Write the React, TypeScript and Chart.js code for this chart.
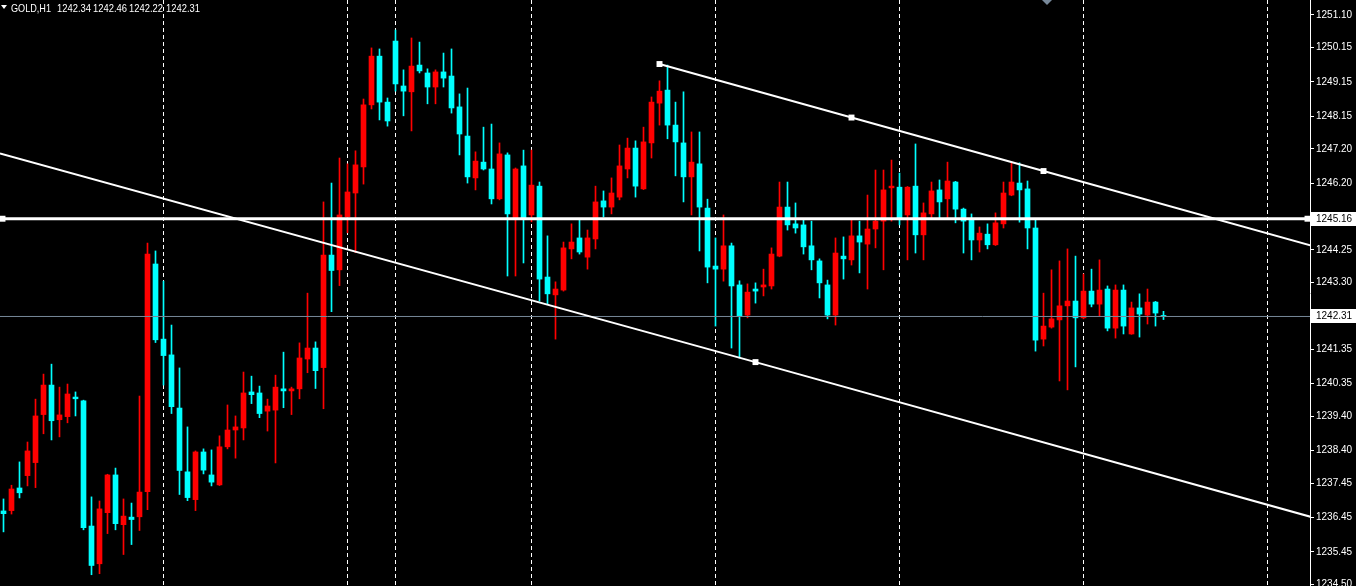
import { useEffect, useRef } from 'react';
import { Chart, registerables } from 'chart.js';

Chart.register(...registerables);

// ---- data ----
const opens = [
  1236.64, 1236.65, 1237.31, 1237.67, 1238.05, 1239.45, 1240.31, 1239.30, 1239.39, 1239.96,
  1239.85, 1236.20, 1235.10, 1236.59, 1237.69, 1236.24, 1236.46, 1236.47, 1237.20, 1243.84,
  1241.65, 1241.19, 1239.64, 1237.78, 1236.97, 1238.36, 1237.69, 1237.40, 1238.51, 1239.00,
  1239.06, 1240.11, 1240.08, 1239.55, 1239.58, 1240.20, 1240.14, 1240.20, 1241.07, 1241.39,
  1240.82, 1244.10, 1243.67, 1245.22, 1245.91, 1246.67, 1248.48, 1249.90, 1248.56, 1250.34,
  1249.03, 1248.86, 1249.64, 1249.41, 1249.00, 1249.44, 1249.32, 1248.42, 1247.57, 1246.35,
  1246.81, 1246.61, 1245.74, 1247.02, 1245.17, 1246.70, 1245.27, 1246.11, 1243.46, 1242.94,
  1243.08, 1244.28, 1244.60, 1244.04, 1244.57, 1245.68, 1245.50, 1245.79, 1246.61, 1247.22,
  1246.03, 1247.37, 1248.53, 1248.91, 1247.89, 1247.37, 1246.38, 1246.76, 1245.47, 1243.78,
  1243.69, 1244.37, 1243.23, 1242.35, 1243.11, 1243.17, 1243.20, 1244.07, 1245.50, 1245.01,
  1244.98, 1244.37, 1243.93, 1243.23, 1242.35, 1244.07, 1243.96, 1244.66, 1244.42, 1244.86,
  1245.09, 1246.06, 1246.08, 1245.27, 1246.11, 1244.69, 1245.30, 1246.00, 1245.74, 1246.23,
  1245.44, 1245.12, 1244.54, 1244.71, 1244.40, 1245.01, 1245.85, 1246.20, 1246.03, 1244.89,
  1241.65, 1242.00, 1242.21, 1242.62, 1242.76, 1242.27, 1243.05, 1242.67, 1243.11, 1241.97,
  1243.08, 1241.80, 1242.56, 1242.35, 1242.73, 1242.34,
];
const highs = [
  1236.99, 1237.39, 1238.07, 1238.65, 1239.90, 1240.63, 1240.92, 1240.25, 1240.34, 1240.11,
  1239.87, 1237.05, 1236.93, 1237.71, 1237.89, 1236.99, 1236.87, 1239.99, 1244.45, 1244.22,
  1243.34, 1242.06, 1240.81, 1239.09, 1238.39, 1238.45, 1238.42, 1238.83, 1239.73, 1239.41,
  1240.69, 1240.57, 1240.28, 1239.90, 1240.60, 1241.27, 1240.25, 1241.54, 1242.99, 1241.57,
  1245.65, 1246.20, 1246.93, 1246.76, 1247.14, 1248.65, 1250.14, 1250.11, 1248.68, 1250.66,
  1249.50, 1250.43, 1250.31, 1249.53, 1249.50, 1249.99, 1250.11, 1248.80, 1248.97, 1247.11,
  1247.83, 1247.92, 1247.37, 1247.08, 1246.64, 1247.16, 1247.16, 1246.23, 1244.66, 1243.32,
  1244.48, 1245.01, 1245.12, 1244.83, 1246.11, 1245.97, 1246.35, 1247.31, 1247.51, 1247.43,
  1247.83, 1248.71, 1249.18, 1249.64, 1248.56, 1248.86, 1247.69, 1247.69, 1245.73, 1244.60,
  1245.27, 1244.45, 1243.35, 1243.26, 1243.29, 1243.69, 1244.31, 1246.23, 1246.23, 1245.62,
  1245.12, 1245.09, 1243.99, 1243.37, 1244.60, 1244.63, 1245.12, 1245.09, 1245.85, 1246.58,
  1246.58, 1246.87, 1246.49, 1246.10, 1247.34, 1245.62, 1246.23, 1246.29, 1246.81, 1246.25,
  1245.47, 1245.30, 1244.92, 1245.01, 1245.33, 1246.23, 1246.79, 1246.79, 1246.26, 1245.12,
  1242.99, 1243.67, 1243.93, 1244.28, 1244.07, 1243.55, 1243.69, 1243.96, 1243.20, 1243.23,
  1243.23, 1242.73, 1242.97, 1243.11, 1242.75, 1242.46,
];
const lows = [
  1236.03, 1236.55, 1237.02, 1237.37, 1237.32, 1238.89, 1238.71, 1238.80, 1239.21, 1239.41,
  1236.09, 1234.78, 1234.81, 1235.98, 1236.09, 1235.37, 1235.66, 1236.07, 1236.68, 1241.55,
  1240.31, 1239.48, 1237.12, 1236.94, 1236.65, 1237.72, 1237.37, 1237.38, 1238.45, 1238.18,
  1238.71, 1239.77, 1239.36, 1238.97, 1238.04, 1239.65, 1239.45, 1239.91, 1240.67, 1240.21,
  1239.62, 1242.45, 1243.21, 1244.75, 1244.17, 1246.17, 1248.36, 1248.04, 1247.86, 1248.88,
  1248.16, 1247.72, 1249.41, 1248.51, 1248.51, 1249.00, 1248.24, 1247.02, 1246.20, 1246.00,
  1246.58, 1245.59, 1245.71, 1243.49, 1243.49, 1243.87, 1245.07, 1242.76, 1242.67, 1241.65,
  1243.05, 1243.99, 1244.13, 1243.69, 1244.28, 1245.21, 1245.30, 1245.71, 1246.35, 1245.79,
  1246.01, 1246.93, 1247.89, 1247.49, 1246.41, 1245.65, 1245.27, 1244.22, 1243.29, 1242.03,
  1243.34, 1241.39, 1241.10, 1242.27, 1242.70, 1242.91, 1243.11, 1244.05, 1244.83, 1244.74,
  1244.13, 1243.67, 1242.85, 1242.24, 1242.06, 1243.40, 1243.81, 1243.58, 1243.11, 1244.31,
  1243.67, 1245.09, 1244.98, 1243.96, 1244.16, 1243.96, 1245.18, 1245.18, 1245.18, 1245.04,
  1244.16, 1243.96, 1244.19, 1244.28, 1244.38, 1244.89, 1245.83, 1245.06, 1244.28, 1241.30,
  1241.45, 1241.97, 1240.43, 1240.17, 1240.84, 1242.24, 1242.59, 1242.32, 1241.89, 1241.68,
  1241.80, 1241.79, 1241.71, 1242.09, 1242.03, 1242.22,
];
const closes = [
  1236.56, 1237.28, 1237.17, 1238.39, 1239.41, 1240.31, 1239.27, 1239.44, 1240.05, 1239.91,
  1236.15, 1235.05, 1236.70, 1237.69, 1236.27, 1236.49, 1236.39, 1237.19, 1244.13, 1241.63,
  1241.17, 1239.68, 1237.82, 1237.03, 1238.36, 1237.83, 1237.48, 1238.51, 1239.00, 1239.09,
  1240.08, 1240.03, 1239.48, 1239.70, 1240.25, 1240.14, 1240.20, 1241.10, 1241.39, 1240.73,
  1244.10, 1243.65, 1245.27, 1245.94, 1246.73, 1248.48, 1249.90, 1248.56, 1248.01, 1249.09,
  1248.88, 1249.61, 1249.47, 1249.00, 1249.44, 1249.26, 1248.39, 1247.63, 1246.38, 1246.84,
  1246.61, 1245.74, 1247.05, 1245.30, 1246.61, 1245.19, 1246.14, 1243.40, 1242.97, 1243.11,
  1244.31, 1244.48, 1244.19, 1244.60, 1245.65, 1245.50, 1245.91, 1246.70, 1247.22, 1246.11,
  1247.40, 1248.56, 1248.88, 1247.89, 1247.40, 1246.38, 1246.81, 1245.50, 1243.75, 1243.69,
  1244.37, 1243.20, 1242.32, 1243.02, 1243.05, 1243.23, 1244.13, 1245.50, 1244.98, 1244.89,
  1244.34, 1243.96, 1243.29, 1242.35, 1244.16, 1243.99, 1244.66, 1244.48, 1244.86, 1245.09,
  1246.00, 1246.11, 1245.18, 1246.08, 1244.69, 1245.33, 1245.97, 1245.65, 1246.26, 1245.44,
  1245.09, 1244.54, 1244.74, 1244.40, 1245.04, 1245.91, 1246.23, 1246.00, 1244.89, 1241.62,
  1242.03, 1242.24, 1242.62, 1242.76, 1242.27, 1243.05, 1242.67, 1243.08, 1241.97, 1243.08,
  1242.03, 1242.56, 1242.38, 1242.73, 1242.41, 1242.31,
];

const separatorBars = [20, 43, 49, 66, 89, 112, 135, 158];
const priceTicks = [
  1251.10, 1250.15, 1249.15, 1248.15, 1247.20, 1246.20, 1244.25, 1243.30,
  1241.35, 1240.35, 1239.40, 1238.40, 1237.45, 1236.45, 1235.45, 1234.50,
];
const levelPrice = 1245.16;
const bidPrice = 1242.31;
const symbolLabel = 'GOLD,H1';
const headerValues = ['1242.34', '1242.46', '1242.22', '1242.31'];
const upperChannel = [
  { x: 82, y: 1249.67 },
  { x: 106, y: 1248.11 },
  { x: 130, y: 1246.55 },
  { x: 163.4, y: 1244.38 },
];
const lowerChannel = [
  { x: -0.44, y: 1247.06 },
  { x: 94, y: 1240.98 },
  { x: 163.4, y: 1236.47 },
];

const X_MIN = -0.4375;
const X_MAX = 163.3125;
const Y_MAX = 1251.537;
const Y_MIN = 1234.452;

const UP = '#ff0000';
const DOWN = '#00ffff';
const FONT = "'Liberation Sans', Arial, sans-serif";

const overlayPlugin = {
  id: 'overlay',
  afterDraw(chart: any) {
    const ctx = chart.ctx;
    const ys = chart.scales.y;
    const area = chart.chartArea;
    ctx.save();
    ctx.font = `10px ${FONT}`;
    ctx.textAlign = 'left';
    ctx.textBaseline = 'middle';
    const boxed = (price: number, bg: string, fg: string) => {
      const py = Math.round(ys.getPixelForValue(price));
      ctx.fillStyle = bg;
      ctx.fillRect(area.right + 1, py - 7, 46, 14);
      ctx.fillStyle = fg;
      ctx.fillText(price.toFixed(2), area.right + 6, py + 0.5);
    };
    boxed(levelPrice, '#ffffff', '#000000');
    boxed(bidPrice, '#ffffff', '#000000');

    // header
    ctx.fillStyle = '#ffffff';
    ctx.beginPath();
    ctx.moveTo(1, 5);
    ctx.lineTo(7, 5);
    ctx.lineTo(4, 9);
    ctx.closePath();
    ctx.fill();
    ctx.font = `10.5px ${FONT}`;
    ctx.textBaseline = 'alphabetic';
    ctx.fillText(symbolLabel, 11, 12, 40);
    const xs = [57, 93, 129, 166];
    headerValues.forEach((v, i) => ctx.fillText(v, xs[i], 12, 34));

    // chart shift marker
    ctx.fillStyle = '#778899';
    ctx.beginPath();
    ctx.moveTo(1042, 0);
    ctx.lineTo(1052, 0);
    ctx.lineTo(1047, 5);
    ctx.closePath();
    ctx.fill();
    ctx.restore();
  },
};

export default function App() {
  const ref = useRef<HTMLCanvasElement | null>(null);

  useEffect(() => {
    if (!ref.current) return;
    const colors = closes.map((c, i) => (c >= opens[i] ? UP : DOWN));
    const bodies = opens.map((o, i) => ({ x: i, y: [o, closes[i]] }));
    const wicks = highs.map((h, i) => ({ x: i, y: [lows[i], h] }));

    const chart = new Chart(ref.current, {
      type: 'bar',
      data: {
        datasets: [
          {
            type: 'line',
            label: 'level',
            data: [
              { x: X_MIN, y: levelPrice },
              { x: -0.125, y: levelPrice },
              { x: 163.0, y: levelPrice },
              { x: X_MAX, y: levelPrice },
            ],
            borderColor: '#ffffff',
            borderWidth: 3,
            pointRadius: [0, 4.2, 4.2, 0],
            pointStyle: 'rect',
            pointBackgroundColor: '#ffffff',
            pointBorderWidth: 0,
            tension: 0,
          },
          {
            type: 'line',
            label: 'upper',
            data: upperChannel,
            borderColor: '#ffffff',
            borderWidth: 2,
            pointRadius: [4.2, 4.2, 4.2, 0],
            pointStyle: 'rect',
            pointBackgroundColor: '#ffffff',
            pointBorderWidth: 0,
            tension: 0,
          },
          {
            type: 'line',
            label: 'lower',
            data: lowerChannel,
            borderColor: '#ffffff',
            borderWidth: 2,
            pointRadius: [0, 4.2, 0],
            pointStyle: 'rect',
            pointBackgroundColor: '#ffffff',
            pointBorderWidth: 0,
            tension: 0,
          },
          {
            type: 'line',
            label: 'bid',
            data: [
              { x: X_MIN, y: bidPrice },
              { x: X_MAX, y: bidPrice },
            ],
            borderColor: '#778899',
            borderWidth: 1,
            pointRadius: 0,
            tension: 0,
          },
          {
            type: 'bar',
            label: 'body',
            data: bodies as any,
            backgroundColor: colors,
            borderWidth: 0,
            barThickness: 5,
            grouped: false,
            minBarLength: 1,
          },
          {
            type: 'bar',
            label: 'wick',
            data: wicks as any,
            backgroundColor: colors,
            borderWidth: 0,
            barThickness: 1,
            grouped: false,
            minBarLength: 1,
          },
        ] as any,
      },
      options: {
        animation: false,
        responsive: false,
        maintainAspectRatio: false,
        devicePixelRatio: 1,
        layout: { padding: 0, autoPadding: false },
        plugins: {
          legend: { display: false },
          tooltip: { enabled: false },
          title: { display: false },
        },
        scales: {
          x: {
            type: 'linear',
            min: X_MIN,
            max: X_MAX,
            offset: false,
            grid: {
              display: true,
              offset: false,
              drawTicks: false,
              color: '#ffffff',
              lineWidth: 1,
            },
            border: { display: false, dash: [4, 3] },
            ticks: { display: false },
            afterBuildTicks: (s: any) => {
              s.ticks = separatorBars.map((v) => ({ value: v }));
            },
            afterFit: (s: any) => {
              s.height = 0;
              s.paddingLeft = 0;
              s.paddingRight = 0;
            },
          },
          y: {
            type: 'linear',
            position: 'right',
            min: Y_MIN,
            max: Y_MAX,
            grid: {
              drawOnChartArea: false,
              drawTicks: true,
              tickLength: 4,
              color: '#ffffff',
              tickColor: '#ffffff',
            },
            border: { display: true, color: '#ffffff', width: 1 },
            ticks: {
              color: '#ffffff',
              font: { family: FONT, size: 10 },
              padding: 2,
              autoSkip: false,
              callback: (v: any) => Number(v).toFixed(2),
            },
            afterBuildTicks: (s: any) => {
              s.ticks = priceTicks.map((v) => ({ value: v }));
            },
            afterFit: (s: any) => {
              s.width = 46;
              s.paddingTop = 0;
              s.paddingBottom = 0;
            },
          },
        },
      } as any,
      plugins: [overlayPlugin],
    });
    return () => chart.destroy();
  }, []);

  return (
    <div
      style={{
        position: 'fixed',
        left: 0,
        top: 0,
        width: 1356,
        height: 586,
        background: '#000000',
      }}
    >
      <canvas ref={ref} width={1356} height={586} style={{ display: 'block' }} />
    </div>
  );
}
